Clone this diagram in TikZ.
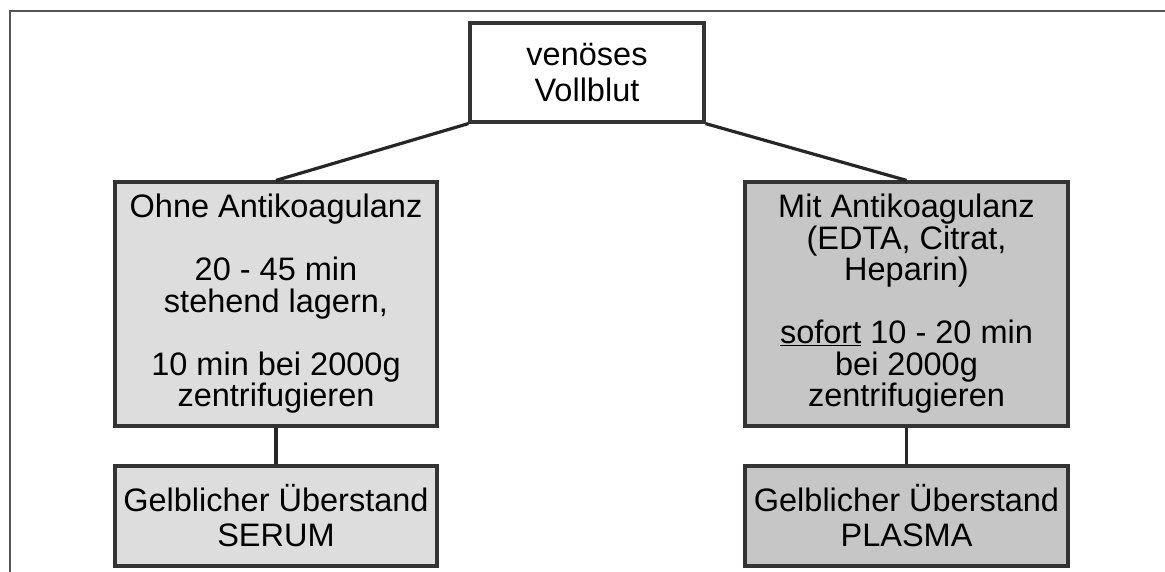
\documentclass[tikz,border=0pt]{standalone}
\usepackage{fontspec}
\setmainfont{Liberation Sans}
\definecolor{boxline}{HTML}{333333}
\definecolor{framegray}{HTML}{555555}
\definecolor{lightfill}{HTML}{DDDDDD}
\definecolor{darkfill}{HTML}{C6C6C6}
\tikzset{
  box/.style={draw=boxline, line width=3.2pt, align=center, inner sep=0pt,
              font=\fontsize{32.5}{31.5}\selectfont},
  conn/.style={draw=black!85, line width=3.2pt},
}
\begin{document}
\begin{tikzpicture}[x=1pt,y=-1pt]
\useasboundingbox (0,0) rectangle (1165,572);
\begin{scope}
\clip (0,0) rectangle (1165,572);
\draw[framegray, line width=2.2pt] (10,11) rectangle (1180,590);
\end{scope}
\node[box, fill=white, minimum width=234pt, minimum height=99pt,
      font=\fontsize{32.5}{36}\selectfont] (top) at (587,72.5) {venöses\\Vollblut};
\node[box, fill=lightfill, minimum width=322pt, minimum height=244pt] (left) at (276,304)
  {Ohne Antikoagulanz\\[31.5pt]20 - 45 min\\stehend lagern,\\[31.5pt]10 min bei 2000g\\zentrifugieren};
\node[box, fill=darkfill, minimum width=323pt, minimum height=244pt] (right) at (906.5,304)
  {Mit Antikoagulanz\\(EDTA, Citrat,\\Heparin)\\[31.5pt]\underline{sofort} 10 - 20 min\\bei 2000g\\zentrifugieren};
\node[box, fill=lightfill, minimum width=322pt, minimum height=100pt,
      font=\fontsize{32.5}{35}\selectfont] (lres) at (276,516) {Gelblicher Überstand\\SERUM};
\node[box, fill=darkfill, minimum width=323pt, minimum height=100pt,
      font=\fontsize{32.5}{35}\selectfont] (rres) at (906.5,516) {Gelblicher Überstand\\PLASMA};
\draw[conn] (top.south west) -- (left.north);
\draw[conn] (top.south east) -- (right.north);
\draw[conn] (left.south) -- (lres.north);
\draw[conn] (right.south) -- (rres.north);
\end{tikzpicture}
\end{document}
